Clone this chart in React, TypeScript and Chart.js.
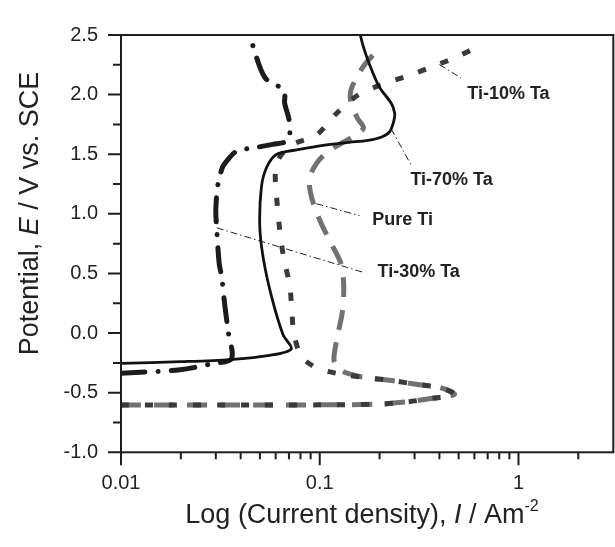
import React, { useEffect, useRef } from "react";
import { Chart, registerables } from "chart.js";
Chart.register(...registerables);

const FONT = '"Liberation Sans", Arial, Helvetica, sans-serif';

// Ti-70% Ta (solid)
const ti70I = [0.01, 0.02, 0.0352, 0.056, 0.0719, 0.0653, 0.0571, 0.0519, 0.0499, 0.0509, 0.054, 0.0605, 0.079, 0.104, 0.141, 0.175, 0.205, 0.225, 0.236, 0.238, 0.229, 0.1995, 0.178, 0.165, 0.16];
const ti70E = [-0.255, -0.24, -0.222, -0.187, -0.133, -0.012, 0.312, 0.635, 0.904, 1.227, 1.389, 1.498, 1.54, 1.575, 1.6, 1.617, 1.645, 1.69, 1.78, 1.848, 1.928, 2.063, 2.252, 2.413, 2.5];

// Ti-30% Ta (dash-dot)
const ti30I = [0.01, 0.0198, 0.029, 0.036, 0.0346, 0.0333, 0.0321, 0.0312, 0.0303, 0.03, 0.0308, 0.0324, 0.034, 0.0381, 0.048, 0.058, 0.0675, 0.0706, 0.07, 0.0666, 0.0666, 0.0628, 0.0529, 0.0461, 0.045];
const ti30E = [-0.337, -0.308, -0.255, -0.215, 0.015, 0.231, 0.473, 0.581, 0.878, 1.039, 1.255, 1.389, 1.443, 1.524, 1.557, 1.583, 1.605, 1.659, 1.793, 1.928, 2.023, 2.063, 2.144, 2.41, 2.5];

// Pure Ti (long dash, grey)
const pureI = [0.01, 0.05, 0.1, 0.2, 0.272, 0.356, 0.476, 0.4, 0.305, 0.229, 0.175, 0.15, 0.127, 0.118, 0.122, 0.13, 0.132, 0.128, 0.116, 0.103, 0.094, 0.089, 0.09, 0.097, 0.106, 0.122, 0.146, 0.166, 0.155, 0.143, 0.145, 0.168, 0.2];
const pureE = [-0.604, -0.604, -0.602, -0.596, -0.578, -0.551, -0.514, -0.456, -0.43, -0.397, -0.376, -0.355, -0.31, -0.23, -0.05, 0.18, 0.4, 0.58, 0.73, 0.9, 1.06, 1.22, 1.33, 1.43, 1.5, 1.57, 1.645, 1.72, 1.8, 1.95, 2.06, 2.25, 2.39];

// Ti-10% Ta (dotted)
const ti10I = [0.01, 0.05, 0.1, 0.2, 0.272, 0.356, 0.476, 0.4, 0.305, 0.229, 0.175, 0.133, 0.1, 0.085, 0.0793, 0.0739, 0.0723, 0.0706, 0.0659, 0.063, 0.0603, 0.0598, 0.062, 0.072, 0.096, 0.121, 0.157, 0.214, 0.276, 0.37, 0.392, 0.48, 0.655];
const ti10E = [-0.604, -0.604, -0.602, -0.596, -0.578, -0.551, -0.514, -0.456, -0.43, -0.397, -0.376, -0.349, -0.303, -0.235, -0.173, 0.008, 0.205, 0.403, 0.629, 0.855, 1.193, 1.35, 1.46, 1.578, 1.66, 1.84, 2.0, 2.096, 2.155, 2.235, 2.252, 2.31, 2.42];

// leader lines
const lead10I = [0.4, 0.514];
const lead10E = [2.252, 2.139];
const lead70I = [0.2286, 0.288];
const lead70E = [1.713, 1.411];
const leadPureI = [0.0962, 0.1585];
const leadPureE = [1.085, 0.985];
const lead30I = [0.0303, 0.168];
const lead30E = [0.883, 0.506];

// annotations
const labelText = ["Ti-10% Ta", "Ti-70% Ta", "Pure Ti", "Ti-30% Ta"];
const labelI = [0.5525, 0.2858, 0.1837, 0.1952];
const labelE = [2.009, 1.282, 0.945, 0.514];

// ticks
const yMajor = [-1, -0.5, 0, 0.5, 1, 1.5, 2, 2.5];
const yMinor = [-0.75, -0.25, 0.25, 0.75, 1.25, 1.75, 2.25];
const xMajor = [0.01, 0.1, 1];
const xMinor = [0.02, 0.03, 0.04, 0.05, 0.06, 0.07, 0.08, 0.09, 0.2, 0.3, 0.4, 0.5, 0.6, 0.7, 0.8, 0.9, 2];

function pts(xs: number[], ys: number[]) {
  return xs.map((x, i) => ({ x, y: ys[i] }));
}

const INK = "#1e1e1e";

const framePlugin = {
  id: "frame",
  afterDatasetsDraw(chart: any) {
    const { ctx, chartArea: a, scales } = chart;
    const x = scales.x, y = scales.y;
    ctx.save();
    ctx.strokeStyle = INK;
    ctx.lineWidth = 2;
    ctx.lineCap = "square";
    ctx.strokeRect(a.left, a.top, a.right - a.left, a.bottom - a.top);
    ctx.lineCap = "butt";
    ctx.beginPath();
    for (const v of yMajor) {
      const p = y.getPixelForValue(v);
      ctx.moveTo(a.left - 13, p);
      ctx.lineTo(a.left, p);
    }
    for (const v of yMinor) {
      const p = y.getPixelForValue(v);
      ctx.moveTo(a.left - 8, p);
      ctx.lineTo(a.left, p);
    }
    for (const v of xMajor) {
      const p = x.getPixelForValue(v);
      ctx.moveTo(p, a.bottom);
      ctx.lineTo(p, a.bottom + 13);
    }
    for (const v of xMinor) {
      const p = x.getPixelForValue(v);
      ctx.moveTo(p, a.bottom);
      ctx.lineTo(p, a.bottom + 7);
    }
    ctx.stroke();

    // curve labels
    ctx.fillStyle = "#222";
    ctx.font = `bold 18px ${FONT}`;
    ctx.textAlign = "left";
    ctx.textBaseline = "middle";
    labelText.forEach((t, i) => {
      ctx.fillText(t, x.getPixelForValue(labelI[i]), y.getPixelForValue(labelE[i]));
    });
    ctx.restore();
  },
  afterDraw(chart: any) {
    const { ctx } = chart;
    ctx.save();
    ctx.fillStyle = "#222";
    ctx.textBaseline = "alphabetic";
    ctx.textAlign = "left";
    const size = 27;
    const draw = (segs: { t: string; it?: boolean; sup?: boolean }[], cx: number, by: number) => {
      const fontOf = (s: any) => `${s.it ? "italic " : ""}${s.sup ? 16 : size}px ${FONT}`;
      let total = 0;
      for (const s of segs) {
        ctx.font = fontOf(s);
        total += ctx.measureText(s.t).width;
      }
      let px = cx - total / 2;
      for (const s of segs) {
        ctx.font = fontOf(s);
        ctx.fillText(s.t, px, s.sup ? by - 12 : by);
        px += ctx.measureText(s.t).width;
      }
    };
    // x title
    draw(
      [{ t: "Log (Current density), " }, { t: "I", it: true }, { t: " / Am" }, { t: "-2", sup: true }],
      362,
      523
    );
    // y title
    ctx.translate(38, 213.5);
    ctx.rotate(-Math.PI / 2);
    draw([{ t: "Potential, " }, { t: "E", it: true }, { t: " / V vs. SCE" }], 0, 0);
    ctx.restore();
  },
};

export default function App() {
  const ref = useRef<HTMLCanvasElement>(null);
  useEffect(() => {
    document.body.style.margin = "0";
    const base = { pointRadius: 0, pointHoverRadius: 0, fill: false };
    const leader = { ...base, borderColor: "#222", borderWidth: 1, borderDash: [7, 3, 1.5, 3], tension: 0, order: 5 };
    const chart = new Chart(ref.current as HTMLCanvasElement, {
      type: "line",
      data: {
        datasets: [
          { ...base, label: "Ti-70% Ta", data: pts(ti70I, ti70E), borderColor: "#111", borderWidth: 2.8, tension: 0.3, order: 0 },
          { ...base, label: "Ti-10% Ta", data: pts(ti10I, ti10E), borderColor: "#3a3a3a", borderWidth: 5, borderDash: [8, 16], borderCapStyle: "butt", tension: 0.3, order: 1 },
          { ...base, label: "Pure Ti", data: pts(pureI, pureE), borderColor: "#717171", borderWidth: 5, borderDash: [20, 13], borderCapStyle: "butt", tension: 0.3, order: 2 },
          { ...base, label: "Ti-30% Ta", data: pts(ti30I, ti30E), borderColor: "#1c1c1c", borderWidth: 5, borderDash: [24, 13, 0.1, 13], borderCapStyle: "round", tension: 0.3, order: 3 },
          { ...leader, label: "l10", data: pts(lead10I, lead10E) },
          { ...leader, label: "l70", data: pts(lead70I, lead70E) },
          { ...leader, label: "lpure", data: pts(leadPureI, leadPureE) },
          { ...leader, label: "l30", data: pts(lead30I, lead30E) },
        ] as any,
      },
      options: {
        animation: false,
        responsive: false,
        devicePixelRatio: 1,
        events: [],
        layout: { padding: { left: 0, right: 1.7, top: 19.3, bottom: 0 } },
        plugins: { legend: { display: false }, tooltip: { enabled: false }, title: { display: false } },
        scales: {
          x: {
            type: "logarithmic",
            min: 0.01,
            max: 3,
            grid: { display: false, drawTicks: false },
            border: { display: false },
            afterBuildTicks: (s: any) => {
              s.ticks = xMajor.map((v) => ({ value: v }));
            },
            afterFit: (s: any) => {
              s.height = 547 - 452.3;
            },
            ticks: {
              autoSkip: false,
              maxRotation: 0,
              padding: 19,
              color: "#222",
              font: { family: FONT, size: 20 },
              callback: (v: any) => String(v),
            },
          },
          y: {
            type: "linear",
            min: -1,
            max: 2.5,
            grid: { display: false, drawTicks: false },
            border: { display: false },
            afterBuildTicks: (s: any) => {
              s.ticks = yMajor.map((v) => ({ value: v }));
            },
            afterFit: (s: any) => {
              s.width = 121;
            },
            ticks: {
              autoSkip: false,
              padding: 23,
              color: "#222",
              font: { family: FONT, size: 20 },
              callback: (v: any) => Number(v).toFixed(1),
            },
          },
        },
      },
      plugins: [framePlugin],
    });
    return () => chart.destroy();
  }, []);
  return (
    <div style={{ position: "absolute", left: 0, top: 0, width: 615, height: 547, background: "#fff" }}>
      <canvas ref={ref} width={615} height={547} style={{ display: "block", width: 615, height: 547 }} />
    </div>
  );
}
